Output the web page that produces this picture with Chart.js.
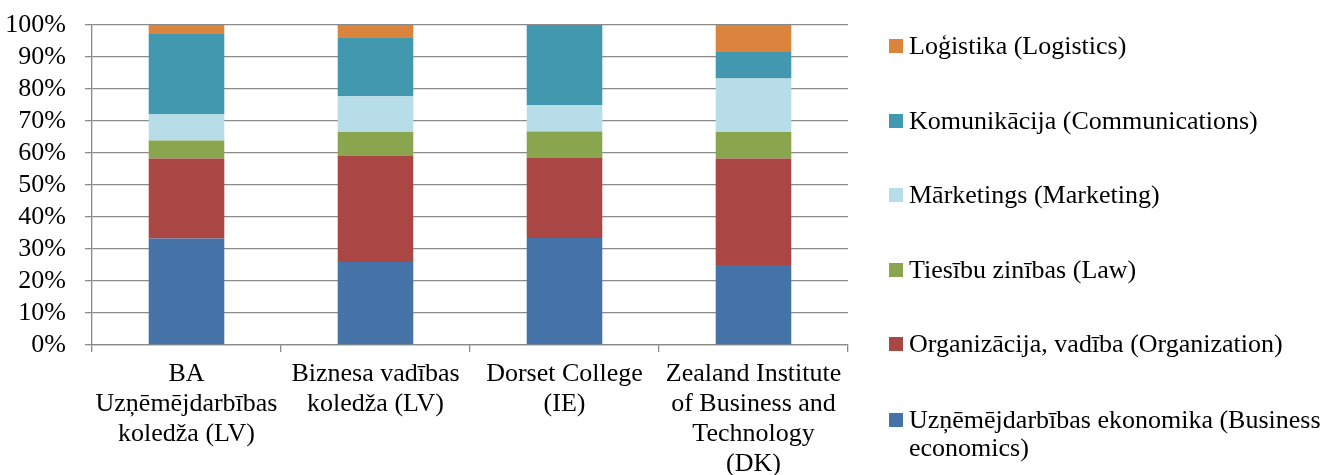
<!DOCTYPE html>
<html>
<head>
<meta charset="utf-8">
<script src="https://cdn.jsdelivr.net/npm/chart.js@4/dist/chart.umd.min.js"></script>
<style>
  html, body { margin: 0; padding: 0; background: #fff; }
  #wrap { position: relative; width: 1333px; height: 475px; overflow: hidden; }
  #chart { position: absolute; left: 0; top: 0; }
  #legend { position: absolute; left: 889px; top: 0; font: 26px "Liberation Serif", "Times New Roman", serif; color: #000; }
  .item { position: absolute; left: 0; display: flex; align-items: flex-start; width: 470px; }
  .sw { width: 14px; height: 14px; flex: none; margin-top: 7px; margin-right: 6px; }
  .txt { line-height: 28px; width: 450px; }
</style>
</head>
<body>
<div id="wrap">
  <canvas id="chart" width="1333" height="475"></canvas>
  <div id="legend"></div>
</div>
<script>
"use strict";

const categories = [
  ["BA", "Uzņēmējdarbības", "koledža (LV)"],
  ["Biznesa vadības", "koledža (LV)"],
  ["Dorset College", "(IE)"],
  ["Zealand Institute", "of Business and", "Technology", "(DK)"],
];

// share of each subject per college, %
const business = [33.3, 25.9, 33.4, 25.0];
const organization = [25.0, 33.3, 25.0, 33.3];
const law = [5.6, 7.4, 8.3, 8.3];
const marketing = [8.3, 11.1, 8.3, 16.7];
const communications = [25.0, 18.5, 25.0, 8.3];
const logistics = [2.8, 3.8, 0, 8.4];

const yTicks = [0, 10, 20, 30, 40, 50, 60, 70, 80, 90, 100];

const series = [
  { label: "Uzņēmējdarbības ekonomika (Business economics)", data: business, color: "#4572A7" },
  { label: "Organizācija, vadība (Organization)", data: organization, color: "#AA4643" },
  { label: "Tiesību zinības (Law)", data: law, color: "#89A54E" },
  { label: "Mārketings (Marketing)", data: marketing, color: "#B7DEE8" },
  { label: "Komunikācija (Communications)", data: communications, color: "#4198AF" },
  { label: "Loģistika (Logistics)", data: logistics, color: "#DB843D" },
];

const family = "'Liberation Serif', 'Times New Roman', serif";
const gridColor = "#8a8a8a";

new Chart(document.getElementById("chart"), {
  type: "bar",
  data: {
    labels: categories,
    datasets: series.map((s) => ({
      label: s.label,
      data: s.data,
      backgroundColor: s.color,
      borderWidth: 0,
      barPercentage: 0.4,
      categoryPercentage: 1.0,
    })),
  },
  options: {
    responsive: false,
    animation: false,
    layout: { padding: { top: 25, right: 1333 - 848, left: 0, bottom: 0 } },
    plugins: { legend: { display: false }, tooltip: { enabled: false } },
    scales: {
      x: {
        stacked: true,
        grid: { drawOnChartArea: false, drawTicks: true, tickLength: 7, color: gridColor, lineWidth: 1.3 },
        border: { color: gridColor, width: 1.3 },
        ticks: { color: "#000", font: { family, size: 26, lineHeight: "30px" }, padding: 7, maxRotation: 0, autoSkip: false },
        afterFit: (s) => { s.height = 130; s.paddingLeft = 0; s.paddingRight = 0; },
      },
      y: {
        stacked: true,
        min: 0,
        max: 100,
        afterBuildTicks: (s) => { s.ticks = yTicks.map((v) => ({ value: v })); },
        grid: { color: gridColor, lineWidth: 1.3, tickLength: 7 },
        border: { color: gridColor, width: 1.3 },
        ticks: { color: "#000", font: { family, size: 26, lineHeight: "24px" }, padding: 19, callback: (v) => v + "%" },
        afterFit: (s) => { s.width = 92; s.paddingTop = 0; s.paddingBottom = 0; },
      },
    },
  },
});

// legend, top to bottom in reverse stacking order
const legendTops = [32, 107, 181, 256, 330, 406];
const leg = document.getElementById("legend");
series.slice().reverse().forEach((s, i) => {
  const item = document.createElement("div");
  item.className = "item";
  item.style.top = legendTops[i] + "px";
  item.innerHTML = `<span class="sw" style="background:${s.color}"></span><span class="txt">${s.label}</span>`;
  leg.appendChild(item);
});
</script>
</body>
</html>
